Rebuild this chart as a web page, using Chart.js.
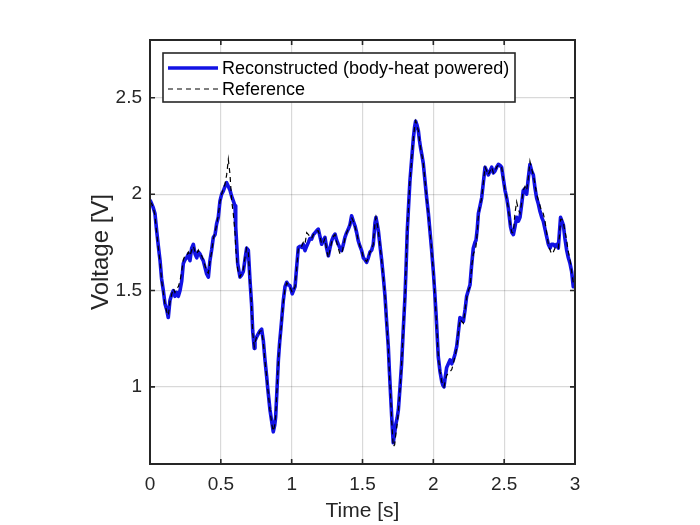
<!DOCTYPE html>
<html>
<head>
<meta charset="utf-8">
<script src="https://cdn.jsdelivr.net/npm/chart.js@4.4.1/dist/chart.umd.min.js"></script>
<style>
  html, body { margin: 0; padding: 0; background: #fff; }
</style>
</head>
<body>
<canvas id="grafico" width="700" height="525"></canvas>
<script>
// tempo [s]
const timeS = [
  0.000,0.012,0.023,0.035,0.047,0.059,0.071,0.082,0.094,0.106,
  0.118,0.129,0.141,0.153,0.165,0.176,0.188,0.200,0.212,0.224,
  0.235,0.247,0.259,0.271,0.282,0.294,0.306,0.318,0.330,0.341,
  0.353,0.365,0.376,0.388,0.400,0.412,0.423,0.435,0.447,0.459,
  0.470,0.482,0.494,0.506,0.518,0.529,0.541,0.553,0.565,0.576,
  0.588,0.600,0.605,0.612,0.619,0.635,0.647,0.659,0.670,0.682,
  0.694,0.706,0.717,0.725,0.736,0.741,0.753,0.765,0.776,0.788,
  0.800,0.812,0.824,0.830,0.847,0.859,0.870,0.880,0.887,0.896,
  0.906,0.915,0.925,0.941,0.953,0.965,0.976,0.988,1.004,1.024,
  1.035,1.047,1.059,1.071,1.082,1.094,1.106,1.118,1.129,1.141,
  1.153,1.165,1.176,1.188,1.200,1.212,1.224,1.235,1.247,1.259,
  1.270,1.282,1.294,1.306,1.318,1.329,1.341,1.353,1.365,1.376,
  1.388,1.400,1.411,1.423,1.435,1.447,1.459,1.470,1.482,1.494,
  1.506,1.517,1.529,1.541,1.553,1.565,1.576,1.588,1.595,1.605,
  1.612,1.624,1.635,1.647,1.659,1.670,1.682,1.690,1.699,1.708,
  1.717,1.727,1.736,1.745,1.753,1.765,1.776,1.788,1.800,1.808,
  1.816,1.826,1.835,1.847,1.859,1.868,1.875,1.884,1.894,1.902,
  1.910,1.920,1.929,1.941,1.953,1.965,1.976,1.988,2.000,2.010,
  2.019,2.027,2.035,2.047,2.059,2.067,2.075,2.084,2.094,2.106,
  2.118,2.130,2.141,2.153,2.165,2.176,2.188,2.200,2.212,2.224,
  2.235,2.247,2.259,2.270,2.282,2.294,2.301,2.310,2.318,2.330,
  2.341,2.353,2.365,2.377,2.388,2.400,2.412,2.424,2.435,2.447,
  2.459,2.470,2.482,2.494,2.506,2.518,2.529,2.537,2.545,2.555,
  2.565,2.576,2.588,2.600,2.612,2.624,2.635,2.647,2.659,2.670,
  2.682,2.694,2.706,2.718,2.729,2.741,2.753,2.765,2.776,2.788,
  2.800,2.812,2.824,2.835,2.847,2.859,2.870,2.882,2.890,2.898,
  2.908,2.918,2.929,2.941,2.953,2.965,2.976,2.988,3.000
]

// tensão reconstruída [V]
const reconstructedV = [
  1.97,1.95,1.93,1.90,1.81,1.73,1.655,1.56,1.50,1.43,
  1.40,1.36,1.45,1.48,1.50,1.47,1.49,1.47,1.50,1.55,
  1.64,1.66,1.67,1.69,1.655,1.72,1.74,1.69,1.67,1.70,
  1.69,1.67,1.655,1.62,1.586,1.57,1.655,1.71,1.776,1.79,
  1.845,1.88,1.965,2.00,2.017,2.04,2.06,2.04,2.02,1.99,
  1.965,1.94,1.83,1.74,1.64,1.57,1.58,1.60,1.66,1.72,
  1.71,1.55,1.43,1.29,1.20,1.24,1.26,1.276,1.29,1.30,
  1.24,1.138,1.05,1.00,0.88,0.82,0.767,0.80,0.844,0.98,
  1.138,1.23,1.31,1.448,1.52,1.543,1.53,1.526,1.483,1.52,
  1.62,1.724,1.73,1.724,1.74,1.707,1.73,1.75,1.77,1.767,
  1.79,1.80,1.81,1.819,1.78,1.74,1.76,1.776,1.72,1.68,
  1.72,1.758,1.78,1.793,1.76,1.74,1.72,1.707,1.74,1.776,
  1.80,1.819,1.84,1.888,1.86,1.836,1.80,1.758,1.73,1.707,
  1.67,1.66,1.646,1.67,1.70,1.71,1.74,1.85,1.88,1.84,
  1.81,1.73,1.66,1.57,1.47,1.34,1.21,1.08,0.95,0.82,
  0.71,0.76,0.81,0.84,0.88,1.00,1.12,1.30,1.47,1.63,
  1.81,1.95,2.07,2.18,2.29,2.35,2.38,2.36,2.33,2.28,
  2.24,2.20,2.16,2.07,1.98,1.90,1.81,1.71,1.60,1.49,
  1.38,1.27,1.155,1.08,1.03,1.01,1.00,1.05,1.10,1.12,
  1.14,1.12,1.14,1.17,1.21,1.28,1.36,1.35,1.34,1.40,
  1.47,1.50,1.53,1.63,1.72,1.75,1.76,1.82,1.90,1.94,
  1.98,2.06,2.14,2.12,2.10,2.12,2.14,2.11,2.12,2.14,
  2.155,2.15,2.14,2.08,2.02,1.98,1.93,1.88,1.83,1.80,
  1.79,1.83,1.88,1.86,1.88,1.95,2.02,2.03,2.00,2.08,
  2.155,2.12,2.10,2.03,1.98,1.95,1.91,1.88,1.86,1.82,
  1.78,1.74,1.72,1.74,1.74,1.73,1.74,1.72,1.80,1.88,
  1.86,1.84,1.77,1.71,1.67,1.64,1.60,1.52,1.53
]

// tensão de referência [V]
const referenceV = [
  1.96,1.95,1.93,1.89,1.80,1.72,1.65,1.55,1.49,1.43,
  1.39,1.37,1.44,1.48,1.51,1.49,1.51,1.52,1.55,1.60,
  1.66,1.68,1.68,1.70,1.68,1.71,1.73,1.70,1.69,1.71,
  1.69,1.68,1.66,1.63,1.60,1.59,1.65,1.70,1.77,1.80,
  1.84,1.89,1.96,2.00,2.03,2.05,2.10,2.18,2.10,1.97,
  1.90,1.80,1.72,1.66,1.61,1.57,1.59,1.61,1.67,1.72,
  1.70,1.54,1.42,1.28,1.21,1.23,1.26,1.27,1.29,1.29,
  1.23,1.13,1.05,1.00,0.88,0.81,0.77,0.80,0.85,0.98,
  1.13,1.22,1.30,1.44,1.51,1.54,1.53,1.52,1.49,1.52,
  1.61,1.72,1.73,1.73,1.75,1.74,1.80,1.79,1.78,1.77,
  1.79,1.80,1.81,1.81,1.78,1.74,1.75,1.77,1.71,1.67,
  1.71,1.75,1.78,1.79,1.75,1.72,1.69,1.69,1.73,1.77,
  1.80,1.82,1.84,1.88,1.86,1.83,1.80,1.76,1.73,1.71,
  1.67,1.66,1.65,1.67,1.70,1.71,1.74,1.85,1.88,1.84,
  1.81,1.73,1.66,1.57,1.47,1.34,1.20,1.07,0.94,0.80,
  0.69,0.70,0.76,0.81,0.87,0.99,1.12,1.30,1.47,1.63,
  1.81,1.95,2.07,2.18,2.29,2.35,2.38,2.36,2.33,2.28,
  2.24,2.20,2.16,2.07,1.98,1.90,1.81,1.71,1.60,1.49,
  1.38,1.27,1.16,1.08,1.03,1.01,1.00,1.03,1.06,1.07,
  1.08,1.09,1.12,1.16,1.20,1.28,1.35,1.34,1.33,1.40,
  1.46,1.50,1.52,1.62,1.69,1.71,1.73,1.80,1.89,1.94,
  1.98,2.06,2.14,2.12,2.10,2.12,2.14,2.11,2.12,2.14,
  2.15,2.15,2.14,2.08,2.02,1.98,1.93,1.88,1.83,1.80,
  1.80,1.90,1.96,1.92,1.90,1.96,2.02,2.04,2.02,2.08,
  2.17,2.13,2.10,2.05,2.00,1.97,1.94,1.91,1.90,1.86,
  1.80,1.74,1.71,1.69,1.70,1.72,1.73,1.72,1.78,1.87,
  1.87,1.85,1.81,1.76,1.70,1.66,1.60,1.54,1.52
]

const xTicks = [0, 0.5, 1, 1.5, 2, 2.5, 3]
const yTicks = [1, 1.5, 2, 2.5]

const fonte = '"Liberation Sans", Arial, Helvetica, sans-serif'
const cinza = '#262626'
const azul = 'rgb(18,18,228)'

// caixa com ticks para dentro + legenda
const caixa = {
  id: 'caixa',
  afterDatasetsDraw(chart) {
    const { ctx, chartArea: a, scales: { x, y } } = chart
    ctx.save()
    ctx.strokeStyle = cinza
    ctx.lineWidth = 1.6
    ctx.beginPath()
    xTicks.forEach(t => {
      const px = x.getPixelForValue(t)
      ctx.moveTo(px, a.bottom); ctx.lineTo(px, a.bottom - 5)
      ctx.moveTo(px, a.top); ctx.lineTo(px, a.top + 5)
    })
    yTicks.forEach(v => {
      const py = y.getPixelForValue(v)
      ctx.moveTo(a.left, py); ctx.lineTo(a.left + 5, py)
      ctx.moveTo(a.right, py); ctx.lineTo(a.right - 5, py)
    })
    ctx.stroke()
    ctx.lineWidth = 2
    ctx.strokeRect(a.left, a.top, a.right - a.left, a.bottom - a.top)

    // legenda
    const lx = a.left + 13, ly = a.top + 13, lw = 352, lh = 49
    ctx.fillStyle = '#fff'
    ctx.fillRect(lx, ly, lw, lh)
    ctx.lineWidth = 1.6
    ctx.strokeRect(lx, ly, lw, lh)
    const ds = chart.data.datasets
    const linhas = [ly + 15, ly + 36]
    ds.forEach((d, i) => {
      ctx.beginPath()
      ctx.strokeStyle = d.borderColor
      ctx.lineWidth = d.borderWidth
      ctx.setLineDash(d.borderDash || [])
      ctx.moveTo(lx + 5, linhas[i]); ctx.lineTo(lx + 55, linhas[i])
      ctx.stroke()
      ctx.setLineDash([])
      ctx.fillStyle = '#000'
      ctx.font = '18px ' + fonte
      ctx.textBaseline = 'middle'
      ctx.fillText(d.label, lx + 59, linhas[i] + 1)
    })
    ctx.restore()
  }
}

const rg = document.getElementById('grafico').getContext('2d')

const data = {
  datasets: [{
    label: 'Reconstructed (body-heat powered)',
    data: timeS.map((t, i) => ({ x: t, y: reconstructedV[i] })),
    borderColor: azul,
    borderWidth: 3.6,
    borderJoinStyle: 'round',
    pointRadius: 0,
    order: 2
  }, {
    label: 'Reference',
    data: timeS.map((t, i) => ({ x: t, y: referenceV[i] })),
    borderColor: '#000',
    borderWidth: 1.2,
    borderDash: [5, 4],
    pointRadius: 0,
    order: 1
  }]
}

const config = {
  type: 'line',
  data,
  options: {
    responsive: false,
    animation: false,
    layout: { padding: { left: 87, right: 125, top: 40, bottom: 0 } },
    plugins: { legend: { display: false }, tooltip: { enabled: false } },
    scales: {
      x: {
        type: 'linear',
        min: 0, max: 3,
        afterBuildTicks: s => { s.ticks = xTicks.map(v => ({ value: v })) },
        afterFit: s => { s.height = 61 },
        grid: { color: 'rgba(0,0,0,0.15)', lineWidth: 1.2, drawTicks: false },
        border: { display: false },
        ticks: { color: cinza, font: { family: fonte, size: 19 }, padding: 9, maxRotation: 0,
          callback: v => String(v) },
        title: { display: true, text: 'Time [s]', color: cinza,
          font: { family: fonte, size: 21 }, padding: { top: 0, bottom: 1 } }
      },
      y: {
        min: 0.6, max: 2.8,
        afterBuildTicks: s => { s.ticks = yTicks.map(v => ({ value: v })) },
        afterFit: s => { s.width = 63 },
        grid: { color: 'rgba(0,0,0,0.15)', lineWidth: 1.2, drawTicks: false },
        border: { display: false },
        ticks: { color: cinza, font: { family: fonte, size: 19 }, padding: 8,
          callback: v => String(v) },
        title: { display: true, text: 'Voltage [V]', color: cinza,
          font: { family: fonte, size: 24 }, padding: 0 }
      }
    }
  },
  plugins: [caixa]
}

const myChart = new Chart(rg, config)
</script>
</body>
</html>
